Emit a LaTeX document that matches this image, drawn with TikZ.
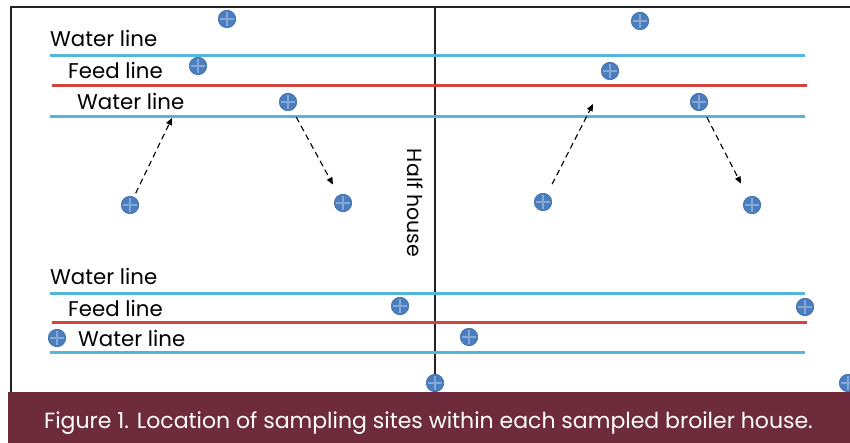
\documentclass[tikz,border=0pt]{standalone}
\usepackage{fontspec}
\setmainfont{Poppins}
\usepackage{tikz}
\usetikzlibrary{arrows.meta,positioning}
\definecolor{water}{HTML}{55B6DA}
\definecolor{feed}{HTML}{D2453E}
\definecolor{siteblue}{HTML}{4A7EBF}
\definecolor{sitecross}{HTML}{86A8D8}
\definecolor{band}{HTML}{6D2B3B}
\definecolor{frame}{HTML}{222222}

\begin{document}
\begin{tikzpicture}[
  x=1pt, y=-1pt,
  font=\fontsize{21.3}{24}\selectfont,
  lbl/.style={anchor=base west, inner sep=0pt},
  waterln/.style={water, line width=3pt},
  feedln/.style={feed, line width=3pt},
  site/.style={circle, fill=siteblue, draw=siteblue!85!black, line width=0.6pt, minimum size=17.5pt, inner sep=0pt,
    path picture={\draw[sitecross, line width=1.2pt]
      ([yshift=-2pt]path picture bounding box.north) -- ([yshift=2pt]path picture bounding box.south)
      ([xshift=2pt]path picture bounding box.west) -- ([xshift=-2pt]path picture bounding box.east);}},
  move/.style={-{Triangle[length=7pt,width=6pt]}, dash pattern=on 6pt off 4pt, line width=1.1pt}
]
\useasboundingbox (0,0) rectangle (850,443);

% house outline and half-house divider
\draw[frame, line width=1.6pt] (11,392) -- (11,7) -- (850,7);
\draw[frame, line width=1.3pt] (435,7) -- (435,392);
\node[rotate=-90, font=\fontsize{20.5}{24}\selectfont] (half) at (415,203) {Half house};

% upper row of lines
\draw[waterln] (50,56) -- (805,56);
\draw[feedln] (52,86) -- (807,86);
\draw[waterln] (50,117) -- (805,117);
\node[lbl] (w1) at (50,47) {Water line};
\node[lbl] (f1) at (68,79) {Feed line};
\node[lbl] (w2) at (77,110) {Water line};

% lower row of lines
\draw[waterln] (50,293) -- (805,293);
\draw[feedln] (52,322) -- (807,322);
\draw[waterln] (50,352) -- (805,352);
\node[lbl] (w3) at (50,284) {Water line};
\node[lbl] (f2) at (68,316) {Feed line};
\node[lbl] (w4) at (78,346) {Water line};

% sampling sites, left half
\node[site] (sa) at (227,19) {};
\node[site] (sb) at (198,66) {};
\node[site] (sc) at (288,102) {};
\node[site] (sd) at (130,205) {};
\node[site] (se) at (343,203) {};
% sampling sites, right half
\node[site] (sf) at (640,21) {};
\node[site] (sg) at (610,71) {};
\node[site] (sh) at (699,102) {};
\node[site] (si) at (543,202) {};
\node[site] (sj) at (752,205) {};
% sampling sites, lower lines
\node[site] (sk) at (400,306) {};
\node[site] (sl) at (805,307) {};
\node[site] (sm) at (57,338) {};
\node[site] (sn) at (469,337) {};
\node[site] (so) at (435,383) {};
\node[site] (sp) at (848,383) {};

% moves between sites
\coordinate (up1) at (172,118);
\coordinate (up2) at (593,104);
\draw[move, shorten <=4pt] (sd) -- (up1);
\draw[move, shorten <=8pt, shorten >=12pt] (sc) -- (se);
\draw[move, shorten <=11pt] (si) -- (up2);
\draw[move, shorten <=8pt, shorten >=15pt] (sh) -- (sj);

% caption band
\fill[band] (8,392) rectangle (850,443);
\node[lbl, white, font=\fontsize{22}{26}\selectfont] (cap) at (44,428) {Figure 1. Location of sampling sites within each sampled broiler house.};
\end{tikzpicture}
\end{document}
